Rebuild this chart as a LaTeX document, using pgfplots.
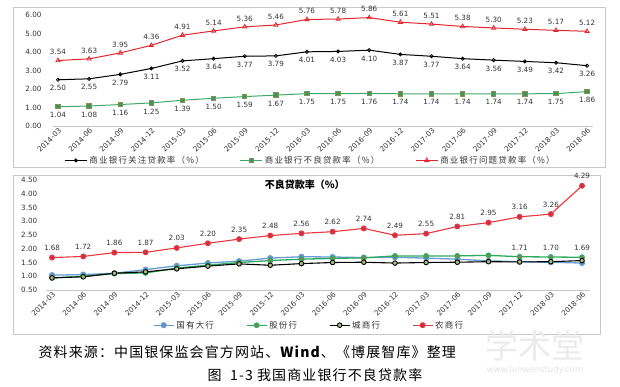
\documentclass[border=0pt]{standalone}
\usepackage{pgfplots}
\usepackage{pgfplotstable}
\pgfplotsset{compat=1.18}
\usepackage{fontspec}
\setmainfont{DejaVu Sans}
\newfontfamily\cjk{Noto Sans CJK SC}
\newfontfamily\cjks[LetterSpace=8]{Noto Sans CJK SC}
\newfontfamily\cjkl[LetterSpace=14]{Noto Sans CJK SC}
\definecolor{numc}{HTML}{333333}
\definecolor{tgreen}{HTML}{3DAA6A}
\definecolor{tgreenf}{HTML}{4F8F55}
\definecolor{tred}{HTML}{E0282E}
\definecolor{bblue}{HTML}{6A9BD1}
\definecolor{bbluef}{HTML}{5B8FC7}
\definecolor{bgreen}{HTML}{2EAA5F}
\definecolor{bgreenf}{HTML}{9A7A48}
\definecolor{bcityf}{HTML}{A9C07A}
\definecolor{bred}{HTML}{E8383D}
\definecolor{bredf}{HTML}{C9304B}
\definecolor{frame}{HTML}{C8C8C8}

\pgfplotstableread{
x guanzhu buliang wenti
0 2.50 1.04 3.54
1 2.55 1.08 3.63
2 2.79 1.16 3.95
3 3.11 1.25 4.36
4 3.52 1.39 4.91
5 3.64 1.50 5.14
6 3.77 1.59 5.36
7 3.79 1.67 5.46
8 4.01 1.75 5.76
9 4.03 1.75 5.78
10 4.10 1.76 5.86
11 3.87 1.74 5.61
12 3.77 1.74 5.51
13 3.64 1.74 5.38
14 3.56 1.74 5.30
15 3.49 1.74 5.23
16 3.42 1.75 5.17
17 3.26 1.86 5.12
}\toptab

\pgfplotstableread{
x big joint city rural
0 1.04 0.94 0.94 1.68
1 1.06 1.00 0.98 1.72
2 1.11 1.10 1.11 1.86
3 1.24 1.12 1.16 1.87
4 1.38 1.30 1.27 2.03
5 1.48 1.40 1.37 2.20
6 1.55 1.50 1.45 2.35
7 1.66 1.57 1.40 2.48
8 1.71 1.62 1.46 2.56
9 1.70 1.65 1.50 2.62
10 1.68 1.67 1.51 2.74
11 1.69 1.74 1.48 2.49
12 1.66 1.74 1.50 2.55
13 1.62 1.74 1.51 2.81
14 1.56 1.76 1.53 2.95
15 1.53 1.71 1.52 3.16
16 1.51 1.70 1.53 3.26
17 1.48 1.69 1.57 4.29
}\bottab

\pgfplotstableread{
x joint
15 1.71
16 1.70
17 1.69
}\jointlab

\begin{document}
\begin{tikzpicture}
\useasboundingbox (0pt,0pt) rectangle (620pt,386pt);
\draw[frame,line width=0.6pt] (13pt,219pt) rectangle (605pt,379pt);
\draw[frame,line width=0.6pt] (13pt,52pt) rectangle (600pt,211pt);

\pgfplotsset{
  common/.style={
    scale only axis, clip=false,
    axis x line*=bottom, axis y line*=left,
    x axis line style={draw=gray!45,line width=0.6pt,-},
    y axis line style={draw=none},
    tick style={draw=none},
    xtick={0,...,17},
    xticklabels={2014-03,2014-06,2014-09,2014-12,2015-03,2015-06,2015-09,2015-12,2016-03,2016-06,2016-09,2016-12,2017-03,2017-06,2017-09,2017-12,2018-03,2018-06},
    xticklabel style={rotate=45,anchor=north east,font=\fontsize{7.2}{8}\selectfont,text=numc,inner sep=1pt},
    yticklabel style={font=\fontsize{7.2}{8}\selectfont,text=numc},
    /pgf/number format/assume math mode=true,
    yticklabel={\pgfmathprintnumber[fixed,fixed zerofill,precision=2]{\tick}},
    nodes near coords style={font=\fontsize{7.2}{8}\selectfont,text=numc,/pgf/number format/fixed,/pgf/number format/fixed zerofill,/pgf/number format/precision=2,/pgf/number format/assume math mode=true},
    legend style={draw=none,fill=none,font=\cjkl\fontsize{8.5}{9}\selectfont,text=numc},
    legend cell align=left,
  }
}

\begin{axis}[common,
  at={(53pt,260pt)}, anchor=south west,
  width=540pt, height=111pt,
  xmin=-0.16, xmax=17.19, ymin=0, ymax=6,
  ytick={0,1,...,6},
  yticklabel style={xshift=-8pt},
  legend columns=3,
  legend style={at={(0.477,-0.31)},anchor=center,
    /tikz/every even column/.append style={column sep=34pt}},
  legend image code/.code={\draw[mark repeat=2,mark phase=2] plot coordinates {(0pt,0pt) (11pt,0pt) (22pt,0pt)};},
]
\addplot[black,line width=1pt,mark=o,mark size=1.6pt,mark options={line width=0.8pt},
  nodes near coords,every node near coord/.append style={anchor=north,yshift=-2pt}]
  table[x=x,y=guanzhu]{\toptab};
\addlegendentry{商业银行关注贷款率（\%）}
\addplot[tgreen,line width=1pt,mark=square*,mark size=2.2pt,mark options={fill=tgreenf,draw=tgreen!60!brown}, 
  nodes near coords,every node near coord/.append style={anchor=north,yshift=-2pt}]
  table[x=x,y=buliang]{\toptab};
\addlegendentry{商业银行不良贷款率（\%）}
\addplot[tred,line width=1pt,mark=triangle,mark size=2.4pt,mark options={line width=0.8pt},
  nodes near coords,every node near coord/.append style={anchor=south,yshift=2pt}]
  table[x=x,y=wenti]{\toptab};
\addlegendentry{商业银行问题贷款率（\%）}
\end{axis}

\begin{axis}[common,
  at={(45.8pt,96pt)}, anchor=south west,
  width=544pt, height=110pt,
  xmin=-0.2, xmax=17.25, ymin=0.5, ymax=4.5,
  ytick={0.5,1,...,4.5},
  yticklabel style={xshift=-5pt},
  legend columns=4,
  legend style={at={(0.484,-0.32)},anchor=center,
    /tikz/every even column/.append style={column sep=30pt}},
  legend image code/.code={\draw[mark repeat=2,mark phase=2] plot coordinates {(0pt,0pt) (10pt,0pt) (20pt,0pt)};},
]
\addplot[bblue,line width=1.3pt,mark=*,mark size=2.4pt,mark options={fill=bbluef,draw=bblue}]
  table[x=x,y=big]{\bottab};
\addlegendentry{国有大行}
\addplot[bgreen,line width=1.3pt,mark=*,mark size=2.2pt,mark options={fill=bgreenf,draw=bgreen}]
  table[x=x,y=joint]{\bottab};
\addlegendentry{股份行}
\addplot[black,line width=1.1pt,mark=*,mark size=2.3pt,mark options={fill=bcityf,draw=black,line width=0.9pt}]
  table[x=x,y=city]{\bottab};
\addlegendentry{城商行}
\addplot[bred,line width=1.1pt,mark=*,mark size=2.4pt,mark options={fill=bredf,draw=bred}, 
  nodes near coords,every node near coord/.append style={anchor=south,yshift=3pt}]
  table[x=x,y=rural]{\bottab};
\addlegendentry{农商行}
\addplot[draw=none,mark=none,forget plot,
  nodes near coords,every node near coord/.append style={anchor=south,yshift=3pt}]
  table[x=x,y=joint]{\jointlab};
\node[font=\cjk\bfseries\fontsize{10}{11}\selectfont,text=black] at (rel axis cs:0.476,0.955) {不良贷款率（\%）};
\end{axis}

\node[anchor=west,font=\cjks\fontsize{14}{15}\selectfont,text=black] at (35pt,34pt) {资料来源：中国银保监会官方网站、\textbf{Wind}、《博展智库》整理};
\node[anchor=center,font=\cjks\fontsize{14}{15}\selectfont,text=black] at (315pt,11pt) {图\ \ 1-3 我国商业银行不良贷款率};
\node[anchor=center,font=\cjk\fontsize{33}{35}\selectfont,text=gray!16] at (535pt,40pt) {学术堂};
\node[anchor=center,font=\fontsize{8.5}{9}\selectfont,text=gray!22] at (535pt,16pt) {www.lunwenstudy.com};
\end{tikzpicture}
\end{document}
